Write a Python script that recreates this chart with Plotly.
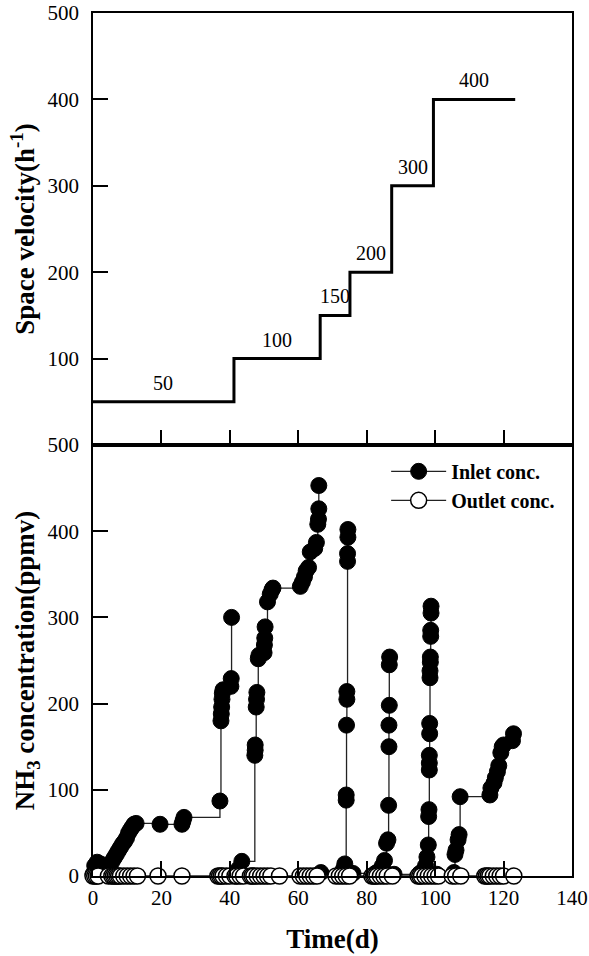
import plotly.graph_objects as go

# ---------------- data ----------------
# Top panel: space velocity step profile
sv_day = [0, 41.2, 66.4, 75.1, 87.3, 99.5, 123.4]
sv_value = [50, 100, 150, 200, 300, 400, 400]
sv_labels = ["50", "100", "150", "200", "300", "400"]

# Bottom panel: inlet NH3 concentration (None separates operating phases)
inlet_day = [
    0, 0.5, 1.2, 2.2, 3.2, 4.2, 5, 5.6, 6.2, 6.8, 7.4, 8, 8.6, 9.2, 9.8, 10.4, 11, 11.5, 12, 12.6,
    19.6, 26, 26.3, 26.6, 37.1, 37.4, 37.5, 37.6, 37.7, 37.8, 38, 40.3, 40.4, 40.5,
    None,
    41.5, 42.5, 43.5, 47.3, 47.4, 47.4, 47.7, 47.8, 47.9, 48.3, 48.5, 50, 50.1, 50.2, 50.3,
    51, 51.8, 52.3, 52.6, 60.6, 61.2, 61.8, 62.3, 63, 63.5, 64.8, 65.3, 65.7, 65.9, 66, 66,
    None,
    66.6, 72.5, 73.2, 73.6, 74.0, 74.0, 74.1, 74.2, 74.2, 74.4, 74.4, 74.5, 74.5,
    None,
    76, 82.5, 83.3, 84.6, 85.2, 85.8, 86.2, 86.4, 86.5, 86.5, 86.6, 86.6, 86.7,
    None,
    88, 95.5, 96.5, 97.2, 97.6, 98, 98.1, 98.2, 98.3, 98.3, 98.3, 98.4, 98.4, 98.5, 98.5,
    98.6, 98.6, 98.7, 98.7, 98.8, 98.8,
    None,
    100.5, 105.5, 105.8, 106.1, 106.7, 107, 107.3, 116, 116.3, 117.2, 117.6, 118.2, 118.6,
    119.2, 119.6, 120, 122.6, 122.9,
]
inlet_ppmv = [
    2, 12, 16, 14, 11, 10, 13, 17, 21, 25, 29, 33, 37, 40, 44, 50, 54, 57, 60, 61,
    60, 60, 64, 68, 87, 180, 188, 196, 205, 212, 216, 220, 229, 300,
    None,
    3, 8, 17, 140, 146, 152, 196, 205, 213, 252, 256, 259, 268, 276, 289,
    318, 327, 332, 334, 336, 341, 347, 354, 358, 376, 380, 387, 408, 414, 426, 453,
    None,
    4, 3, 8, 14, 88, 94, 175, 205, 214, 365, 374, 393, 402,
    None,
    3, 3, 5, 12, 18, 38, 42, 82, 150, 175, 198, 245, 254,
    None,
    2, 3, 6, 12, 22, 36, 69, 77, 123, 131, 140, 165, 177, 230, 238,
    248, 254, 278, 285, 305, 313,
    None,
    2, 4, 25, 30, 42, 48, 92, 94, 102, 108, 114, 121, 128,
    143, 150, 152, 157, 165,
]

# Bottom panel: outlet NH3 concentration
outlet_day = [
    0, 0.5, 1, 1.5, 4.5, 5.5, 6, 6.5, 7, 7.5, 8, 9, 10, 11, 12, 13, 19, 26,
    36.5, 37, 37.5, 38, 39, 40, 41.5, 42, 43, 44, 46, 46.5, 47, 48, 49, 50, 51, 52, 54.5,
    60.5, 61.5, 62.5, 63.5, 64.5, 65.5, 71, 72, 73, 74, 75,
    81.5, 82, 82.5, 83, 84, 85, 86, 87.5, 95, 95.5, 96, 97, 98, 99, 100, 101,
    105, 106, 107.5, 114.5, 115, 115.5, 116, 117, 118, 119, 120, 123,
]
outlet_ppmv = [
    0, 0, 0, 0, 0, 0, 0, 0, 0, 0, 0, 0, 0, 0, 0, 0, 0, 0,
    0, 0, 0, 0, 0, 0, 0, 0, 0, 0, 0, 0, 0, 0, 0, 0, 0, 0, 0,
    0, 0, 0, 0, 0, 0, 0, 0, 0, 0, 0,
    0, 0, 0, 0, 0, 0, 0, 0, 0, 0, 0, 0, 0, 0, 0, 0,
    0, 0, 0, 0, 0, 0, 0, 0, 0, 0, 0, 0,
]

x_ticks = [0, 20, 40, 60, 80, 100, 120, 140]
y_ticks = [0, 100, 200, 300, 400, 500]

# ---------------- figure ----------------
FONT = "Liberation Serif, Times New Roman, serif"
W, H = 589, 956
ML, MR, MT, MB = 93, 17, 13, 80
split = 431 / 863

fig = go.Figure()

# top panel step line
fig.add_trace(go.Scatter(
    x=sv_day, y=sv_value, mode="lines", line=dict(color="black", width=3, shape="hv"),
    xaxis="x2", yaxis="y2", showlegend=False, hoverinfo="skip"))

# bottom panel series
fig.add_trace(go.Scatter(
    x=inlet_day, y=inlet_ppmv, mode="lines+markers", name="Inlet conc.",
    line=dict(color="#222", width=1.3, shape="hv"),
    marker=dict(symbol="circle", size=16, color="black", line=dict(color="black", width=1)),
    connectgaps=False, cliponaxis=False, xaxis="x", yaxis="y"))
fig.add_trace(go.Scatter(
    x=outlet_day, y=outlet_ppmv, mode="lines+markers", name="Outlet conc.",
    line=dict(color="#222", width=1.3),
    marker=dict(symbol="circle", size=16, color="white", line=dict(color="black", width=1.5)),
    cliponaxis=False, xaxis="x", yaxis="y"))

# step labels
for i, lab in enumerate(sv_labels):
    mid = (sv_day[i] + sv_day[i + 1]) / 2
    fig.add_annotation(x=mid, y=sv_value[i], xref="x2", yref="y2", text=lab,
                       showarrow=False, yshift=19, font=dict(family=FONT, size=20, color="black"))

axis_common = dict(showline=True, linecolor="black", linewidth=1.5, mirror=True,
                   ticks="inside", ticklen=15, tickwidth=1.5, tickcolor="black",
                   showgrid=False, zeroline=False, automargin=False,
                   tickfont=dict(family=FONT, size=21, color="black"))

fig.update_layout(
    width=W, height=H,
    margin=dict(l=ML, r=MR, t=MT, b=MB),
    paper_bgcolor="white", plot_bgcolor="white",
    xaxis=dict(domain=[0, 1], range=[0, 140], tickvals=x_ticks, anchor="y",
               ticklabelstandoff=2,
               title=dict(text="<b>Time(d)</b>", font=dict(family=FONT, size=27, color="black"),
                          standoff=20),
               **axis_common),
    yaxis=dict(domain=[0, split], range=[0, 500], tickvals=y_ticks, anchor="x",
               ticklabelstandoff=8,
               title=dict(text="<b>NH<sub>3</sub> concentration(ppmv)</b>",
                          font=dict(family=FONT, size=27, color="black"), standoff=5),
               **axis_common),
    xaxis2=dict(domain=[0, 1], range=[0, 140], tickvals=x_ticks, anchor="y2",
                showticklabels=False, **axis_common),
    yaxis2=dict(domain=[split, 1], range=[0, 500], tickvals=y_ticks[1:], anchor="x2",
                ticklabelstandoff=8,
                title=dict(text="<b>Space velocity(h<sup>-1</sup>)</b>",
                           font=dict(family=FONT, size=27, color="black"), standoff=5),
                **axis_common),
    legend=dict(x=0.612, y=0.4915, xanchor="left", yanchor="top",
                bgcolor="rgba(0,0,0,0)", borderwidth=0, itemwidth=55,
                font=dict(family=FONT, size=20, color="black", weight="bold"),
                tracegroupgap=0),
    showlegend=True,
)

fig.write_html("out.html", config={"displayModeBar": False},
               post_script="document.body.style.margin='0';document.body.style.overflow='hidden';")
